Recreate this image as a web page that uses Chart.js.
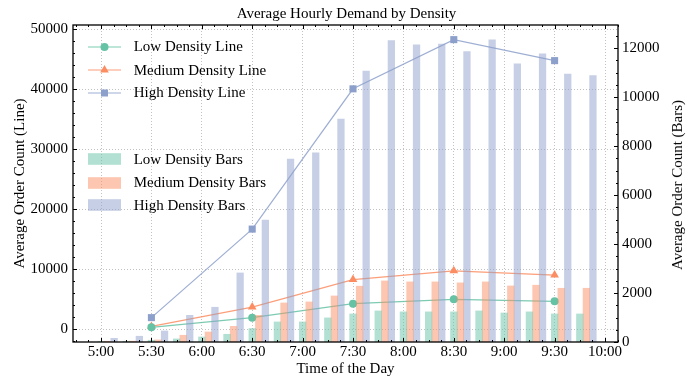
<!DOCTYPE html>
<html><head><meta charset="utf-8">
<script src="https://cdn.jsdelivr.net/npm/chart.js@4.4.1/dist/chart.umd.min.js"></script>
<style>
html,body{margin:0;padding:0;background:#fff;}
#wrap{position:relative;width:693px;height:377px;overflow:hidden;}
#c{position:absolute;left:0;top:0;}
.leg{position:absolute;left:88px;height:20px;display:flex;align-items:center;font-family:'Liberation Serif','Times New Roman',serif;font-size:15px;color:#000;white-space:nowrap;}
.leg svg{margin-right:12.7px;flex:none;}
#rtitle{position:absolute;left:676.7px;top:185px;transform:translate(-50%,-50%) rotate(-90deg);font-family:'Liberation Serif','Times New Roman',serif;font-size:15px;color:#000;white-space:nowrap;line-height:18px;}
</style></head>
<body><div id="wrap"><canvas id="c" width="693" height="377"></canvas><div id="rtitle"></div></div>
<script>
// ---------------- data ----------------
const chartTitle = 'Average Hourly Demand by Density';
const xAxisTitle = 'Time of the Day';
const yLeftTitle = 'Average Order Count (Line)';
const yRightTitle = 'Average Order Count (Bars)';

const xTickLabels = ['5:00','5:30','6:00','6:30','7:00','7:30','8:00','8:30','9:00','9:30','10:00'];
const yLeftTicks = [0, 10000, 20000, 30000, 40000, 50000];
const yRightTicks = [0, 2000, 4000, 6000, 8000, 10000, 12000];

const lineTimes = ['5:30','6:30','7:30','8:30','9:30'];
const lowLine    = [330, 1940, 4270, 5000, 4660];
const mediumLine = [480, 3700, 8280, 9750, 9030];
const highLine   = [1940, 16700, 40080, 48280, 44780];

const barTimes = ['5:00','5:15','5:30','5:45','6:00','6:15','6:30','6:45','7:00','7:15',
                  '7:30','7:45','8:00','8:15','8:30','8:45','9:00','9:15','9:30','9:45'];
const lowBars    = [15, 30, 70, 125, 205, 315, 550, 820, 820, 985, 1145, 1270, 1230, 1230, 1230, 1270, 1185, 1230, 1145, 1145];
const mediumBars = [30, 35, 85, 275, 410, 640, 1090, 1595, 1635, 1880, 2280, 2495, 2455, 2455, 2415, 2455, 2290, 2320, 2195, 2195];
const highBars   = [150, 235, 450, 1090, 1420, 2820, 4980, 7470, 7730, 9110, 11070, 12310, 12135, 12175, 11860, 12340, 11360, 11770, 10950, 10880];

const seriesNames = ['Low Density', 'Medium Density', 'High Density'];

// ---------------- styling ----------------
const COLORS = ['#66c2a5', '#fc8d62', '#8da0cb'];
const MARKERS = ['circle', 'triangle', 'rect'];
const MARKER_R = [4, 5, 5];
const BAR_W_PX = 6.6;
const BAR_STEP_H = 0.0652;   // side-by-side shift of grouped bars, in hours
const FONT = "'Liberation Serif','Times New Roman',serif";

function toHours(t){ const [h,m] = t.split(':').map(Number); return h + m/60; }
function rgba(hex, a){
  const n = parseInt(hex.slice(1),16);
  return `rgba(${n>>16&255},${n>>8&255},${n&255},${a})`;
}

Chart.defaults.font.family = FONT;
Chart.defaults.font.size = 15;
Chart.defaults.color = '#000';

const lineSeries = [lowLine, mediumLine, highLine];
const barSeries = [lowBars, mediumBars, highBars];

const datasets = [];
lineSeries.forEach((vals, k) => {
  datasets.push({
    type: 'line',
    label: seriesNames[k] + ' Line',
    data: lineTimes.map((t, i) => ({x: toHours(t), y: vals[i]})),
    yAxisID: 'y',
    borderColor: rgba(COLORS[k], 0.85),
    backgroundColor: COLORS[k],
    borderWidth: 1.2,
    pointStyle: MARKERS[k],
    pointRadius: MARKER_R[k],
    pointBorderWidth: 0,
    pointBackgroundColor: COLORS[k],
    tension: 0,
    fill: false,
    order: 2
  });
});
barSeries.forEach((vals, k) => {
  datasets.push({
    type: 'bar',
    label: seriesNames[k] + ' Bars',
    data: barTimes.map((t, i) => ({x: toHours(t) + k * BAR_STEP_H, y: vals[i]})),
    yAxisID: 'y2',
    backgroundColor: rgba(COLORS[k], 0.5),
    borderWidth: 0,
    barThickness: BAR_W_PX,
    grouped: false,
    order: 1
  });
});

const xTickValues = xTickLabels.map(toHours);

const framePlugin = {
  id: 'frame',
  afterDatasetsDraw(chart) {
    const {ctx, chartArea: a, scales} = chart;
    const sx = scales.x, sy = scales.y, sy2 = scales.y2;
    ctx.save();
    ctx.strokeStyle = '#000';
    ctx.lineWidth = 1;
    const seg = (x1,y1,x2,y2) => { ctx.beginPath(); ctx.moveTo(x1,y1); ctx.lineTo(x2,y2); ctx.stroke(); };
    const MAJ = 4, MIN = 2;
    for (let v = 4.75; v <= sx.max + 1e-9; v += 0.125) {
      if (v < sx.min) continue;
      const px = Math.round(sx.getPixelForValue(v)) + 0.5;
      const major = xTickValues.some(t => Math.abs(t - v) < 1e-6);
      const L = major ? MAJ : MIN;
      seg(px, a.bottom, px, a.bottom - L);
      seg(px, a.top, px, a.top + L);
    }
    for (let v = -2000; v <= sy.max; v += 2000) {
      if (v < sy.min) continue;
      const py = Math.round(sy.getPixelForValue(v)) + 0.5;
      const L = (v % 10000 === 0) ? MAJ : MIN;
      seg(a.left, py, a.left + L, py);
    }
    for (let v = 0; v <= sy2.max; v += 500) {
      const py = Math.round(sy2.getPixelForValue(v)) + 0.5;
      const L = (v % 2000 === 0) ? MAJ : MIN;
      seg(a.right, py, a.right - L, py);
    }
    ctx.lineWidth = 1.3;
    ctx.strokeRect(a.left, a.top, a.right - a.left, a.bottom - a.top);
    ctx.restore();
  }
};

const gridCommon = {
  color: 'rgba(170,170,170,0.9)',
  lineWidth: 0.8,
  drawTicks: false
};

new Chart(document.getElementById('c'), {
  type: 'bar',
  data: { datasets },
  options: {
    responsive: false,
    animation: false,
    layout: { padding: 0 },
    plugins: {
      legend: { display: false },
      tooltip: { enabled: false },
      title: {
        display: true, text: chartTitle, color: '#000',
        font: { size: 15, weight: 'normal', family: FONT },
        padding: { top: 5, bottom: 2 }
      }
    },
    scales: {
      x: {
        type: 'linear', offset: false, bounds: 'data',
        min: 4.7222, max: 10.1289,
        grid: Object.assign({ offset: false }, gridCommon),
        border: { display: false, dash: [1, 2] },
        ticks: { padding: 1, maxRotation: 0, autoSkip: false, callback: (v, i) => xTickLabels[i] },
        afterBuildTicks: s => { s.ticks = xTickValues.map(v => ({value: v})); },
        afterFit: s => { s.height = 35; },
        title: { display: true, text: xAxisTitle, font: { size: 15, lineHeight: 1.1 }, padding: 0 }
      },
      y: {
        type: 'linear', position: 'left', bounds: 'data',
        min: -2120, max: 50720,
        grid: gridCommon,
        border: { display: false, dash: [1, 2] },
        ticks: { padding: 5, callback: v => String(v) },
        afterBuildTicks: s => { s.ticks = yLeftTicks.map(v => ({value: v})); },
        afterFit: s => { s.width = 73; },
        title: { display: true, text: yLeftTitle, font: { size: 15 }, padding: { top: 11, bottom: 0 } }
      },
      y2: {
        type: 'linear', position: 'right', bounds: 'data',
        min: 0, max: 12950,
        grid: { display: false, drawTicks: false },
        border: { display: false },
        ticks: { padding: 4, callback: v => String(v) },
        afterBuildTicks: s => { s.ticks = yRightTicks.map(v => ({value: v})); },
        afterFit: s => { s.width = 75; },
        title: { display: false }
      }
    }
  },
  plugins: [framePlugin]
});

// right axis title (reads bottom-to-top, as in the reference)
document.getElementById('rtitle').textContent = yRightTitle;

// ---------------- legend (HTML text) ----------------
const legendRows = [46.7, 70, 92.7, 159.3, 182.7, 205];
const wrap = document.getElementById('wrap');
function markerSvg(k){
  const c = COLORS[k], cx = 16.5, cy = 7;
  if (MARKERS[k] === 'circle') return `<circle cx="${cx}" cy="${cy}" r="4" fill="${c}"/>`;
  if (MARKERS[k] === 'triangle') return `<polygon points="${cx},${cy-5} ${cx-4.3},${cy+2.5} ${cx+4.3},${cy+2.5}" fill="${c}"/>`;
  return `<rect x="${cx-3.5}" y="${cy-3.5}" width="7" height="7" fill="${c}"/>`;
}
datasets.forEach((ds, i) => {
  const k = i % 3;
  const row = document.createElement('div');
  row.className = 'leg';
  row.style.top = (legendRows[i] - 10) + 'px';
  let svg;
  if (ds.type === 'line') {
    svg = `<svg width="33" height="14" viewBox="0 0 33 14"><line x1="0" y1="7" x2="33" y2="7" stroke="${rgba(COLORS[k],0.85)}" stroke-width="1.2"/>${markerSvg(k)}</svg>`;
  } else {
    svg = `<svg width="33" height="14" viewBox="0 0 33 14"><rect x="0" y="1.2" width="33" height="11.6" fill="${rgba(COLORS[k],0.5)}"/></svg>`;
  }
  row.innerHTML = svg + '<span></span>';
  row.querySelector('span').textContent = ds.label;
  wrap.appendChild(row);
});
</script>
</body></html>
